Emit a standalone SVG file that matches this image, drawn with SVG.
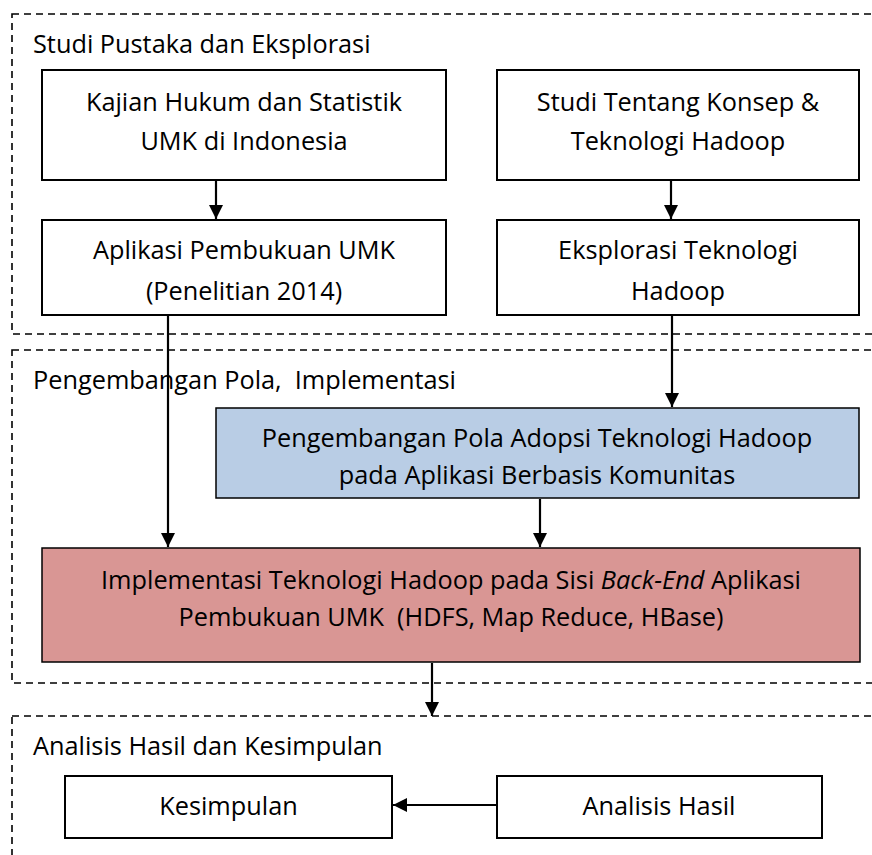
<svg xmlns="http://www.w3.org/2000/svg" width="872" height="855" viewBox="0 0 872 855">
<style>
text{font-family:"Open Sans","Noto Sans",sans-serif;font-size:25.3px;fill:#000;white-space:pre}
.c{text-anchor:middle}
.grp{fill:none;stroke:#000;stroke-width:1.6;stroke-dasharray:7,5}
.box{fill:#fff;stroke:#000;stroke-width:2}
.blue{fill:#B9CDE5;stroke:#000;stroke-width:1.5}
.red{fill:#D99694;stroke:#000;stroke-width:1.5}
.ln{fill:none;stroke:#000;stroke-width:2.2}
</style>
<defs>
<marker id="ah" viewBox="0 0 10 10" refX="10" refY="5" markerWidth="6.5" markerHeight="7.5" markerUnits="strokeWidth" orient="auto">
<path d="M0,0 L10,5 L0,10 Z" fill="#000"/>
</marker>
</defs>
<rect width="872" height="855" fill="#fff"/>
<g id="group1">
<rect class="grp" x="12" y="14" width="864" height="320"/>
<text x="33" y="53">Studi Pustaka dan Eksplorasi</text>
</g>
<g id="group2">
<rect class="grp" x="12" y="350" width="864" height="333"/>
<text x="33" y="389">Pengembangan Pola,  Implementasi</text>
</g>
<g id="group3">
<rect class="grp" x="12" y="716" width="864" height="160"/>
<text x="33" y="755">Analisis Hasil dan Kesimpulan</text>
</g>
<g id="kajian">
<rect class="box" x="42" y="70" width="404" height="110"/>
<text class="c" x="244" y="111">Kajian Hukum dan Statistik</text>
<text class="c" x="244" y="150">UMK di Indonesia</text>
</g>
<g id="studi">
<rect class="box" x="497" y="70" width="362" height="110"/>
<text class="c" x="678" y="111">Studi Tentang Konsep &amp;</text>
<text class="c" x="678" y="150">Teknologi Hadoop</text>
</g>
<g id="aplikasi">
<rect class="box" x="42" y="220" width="404" height="95"/>
<text class="c" x="244" y="259">Aplikasi Pembukuan UMK</text>
<text class="c" x="244" y="300">(Penelitian 2014)</text>
</g>
<g id="eksplorasi">
<rect class="box" x="497" y="220" width="362" height="95"/>
<text class="c" x="678" y="259">Eksplorasi Teknologi</text>
<text class="c" x="678" y="300">Hadoop</text>
</g>
<g id="pola">
<rect class="blue" x="216" y="408" width="643" height="90"/>
<text class="c" x="537" y="447">Pengembangan Pola Adopsi Teknologi Hadoop</text>
<text class="c" x="537" y="484">pada Aplikasi Berbasis Komunitas</text>
</g>
<g id="implementasi">
<rect class="red" x="42" y="548" width="818" height="114"/>
<text class="c" x="451" y="589">Implementasi Teknologi Hadoop pada Sisi <tspan font-style="italic">Back-End</tspan> Aplikasi</text>
<text class="c" x="451" y="626">Pembukuan UMK  (HDFS, Map Reduce, HBase)</text>
</g>
<g id="kesimpulan">
<rect class="box" x="65" y="776" width="327" height="62"/>
<text class="c" x="228.5" y="815">Kesimpulan</text>
</g>
<g id="analisis">
<rect class="box" x="497" y="776" width="325" height="62"/>
<text class="c" x="659" y="815">Analisis Hasil</text>
</g>
<g id="connectors">
<line class="ln" x1="216" y1="181" x2="216" y2="219" marker-end="url(#ah)"/>
<line class="ln" x1="671" y1="181" x2="671" y2="219" marker-end="url(#ah)"/>
<line class="ln" x1="672" y1="316" x2="672" y2="407" marker-end="url(#ah)"/>
<line class="ln" x1="168" y1="316" x2="168" y2="547" marker-end="url(#ah)"/>
<line class="ln" x1="540" y1="499" x2="540" y2="547" marker-end="url(#ah)"/>
<line class="ln" x1="432" y1="663" x2="432" y2="716" marker-end="url(#ah)"/>
<line class="ln" x1="496" y1="805" x2="393" y2="805" marker-end="url(#ah)"/>
</g>
</svg>
